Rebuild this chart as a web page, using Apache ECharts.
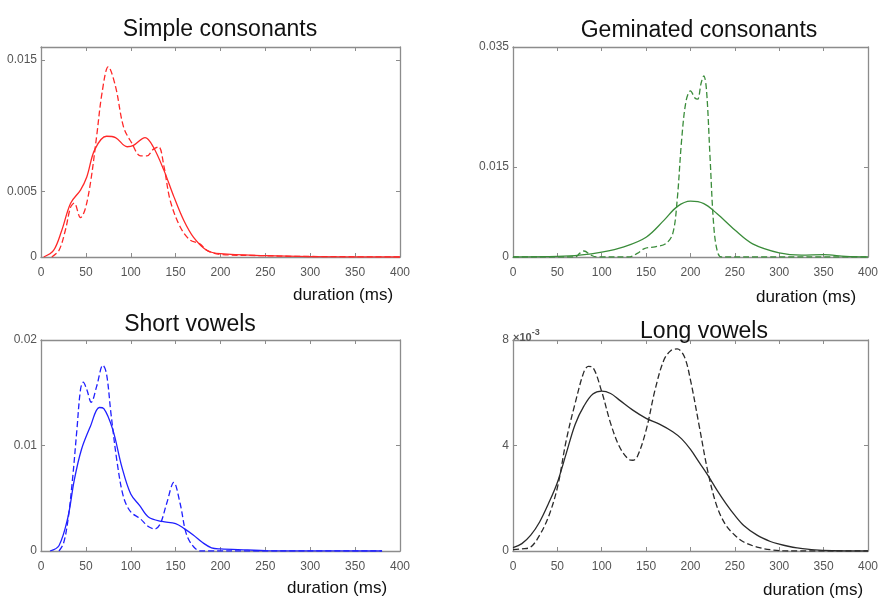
<!DOCTYPE html>
<html><head><meta charset="utf-8">
<script src="https://cdn.jsdelivr.net/npm/echarts@6/dist/echarts.min.js"></script>
<style>html,body{margin:0;padding:0;background:#fff}#c{width:881px;height:599px}</style>
</head><body><div id="c"></div>
<script>
// ---- Data (durations in ms, densities) ----
const xTicks = [0, 50, 100, 150, 200, 250, 300, 350, 400];

// Simple consonants (red)
const simpleSolidX = [3, 14, 23, 33, 44, 51, 60, 73, 83, 96, 103, 116, 125, 137, 148, 159, 170, 185, 200, 250, 300, 400];
const simpleSolidY = [0, 0.0005, 0.002, 0.0041, 0.0051, 0.0061, 0.0082, 0.0092, 0.0091, 0.0084, 0.0085, 0.0091, 0.0084, 0.0066, 0.0046, 0.0028, 0.0015, 0.0005, 0.00025, 0.0001, 0.00003, 0];
const simpleDashX = [12, 20, 27, 33, 37, 44, 49, 55, 62, 68, 75, 83, 92, 101, 111, 118, 125, 131, 137, 144, 155, 166, 177, 185, 200, 250, 280, 400];
const simpleDashY = [0, 0.0005, 0.002, 0.0038, 0.0041, 0.003, 0.0036, 0.0056, 0.0092, 0.0125, 0.0145, 0.013, 0.0099, 0.0087, 0.0077, 0.0077, 0.0082, 0.0084, 0.0069, 0.0043, 0.0023, 0.0013, 0.001, 0.0005, 0.0002, 0.0001, 0.00005, 0];

// Geminated consonants (green)
const gemSolidX = [0, 50, 75, 100, 125, 150, 170, 185, 200, 215, 230, 250, 270, 300, 325, 350, 375, 400];
const gemSolidY = [0, 0.0001, 0.0003, 0.0008, 0.0017, 0.0033, 0.0061, 0.0084, 0.0093, 0.0089, 0.0072, 0.0045, 0.0022, 0.0007, 0.0003, 0.0004, 0.0001, 0];
const gemDashX = [0, 70, 75, 80, 88, 95, 130, 140, 148, 160, 172, 180, 185, 190, 195, 200, 205, 208, 212, 215, 218, 222, 226, 230, 235, 400];
const gemDashY = [0, 0, 0.0006, 0.001, 0.0003, 0, 0, 0.0006, 0.0014, 0.0017, 0.0022, 0.0039, 0.0095, 0.0195, 0.026, 0.0277, 0.0265, 0.0263, 0.029, 0.0302, 0.0279, 0.0167, 0.0056, 0.0011, 0, 0];

// Short vowels (blue)
const shortSolidX = [10, 20, 30, 37, 45, 55, 65, 70, 80, 90, 100, 110, 120, 135, 150, 160, 170, 180, 190, 200, 230, 250, 300, 380];
const shortSolidY = [0, 0.0005, 0.0032, 0.0067, 0.0096, 0.0118, 0.0136, 0.0135, 0.0115, 0.008, 0.0054, 0.0043, 0.0032, 0.0028, 0.0026, 0.0021, 0.0015, 0.0008, 0.0003, 0.0002, 0.0001, 0.00003, 0.00001, 0];
const shortDashX = [20, 25, 30, 35, 40, 44, 47, 51, 56, 62, 69, 73, 78, 85, 92, 100, 110, 120, 127, 133, 140, 148, 155, 162, 170, 178, 380];
const shortDashY = [0, 0.0007, 0.0029, 0.0067, 0.0115, 0.0153, 0.016, 0.0153, 0.0141, 0.0156, 0.0176, 0.0168, 0.013, 0.0083, 0.0051, 0.0037, 0.0031, 0.0023, 0.0021, 0.0026, 0.0045, 0.0065, 0.0045, 0.0016, 0.0004, 0, 0];

// Long vowels (black), values in units of 10^-3
const longSolidX = [0, 10, 20, 30, 40, 50, 60, 70, 80, 90, 100, 110, 120, 135, 150, 165, 180, 190, 200, 210, 220, 230, 240, 250, 260, 275, 290, 300, 310, 320, 340, 360, 400];
const longSolidY = [0.13, 0.28, 0.6, 1.1, 1.8, 2.6, 3.7, 4.8, 5.5, 5.95, 6.06, 5.97, 5.72, 5.34, 5.03, 4.81, 4.52, 4.25, 3.85, 3.35, 2.85, 2.3, 1.8, 1.35, 0.97, 0.6, 0.36, 0.26, 0.18, 0.12, 0.04, 0.01, 0];
const longDashX = [0, 10, 20, 30, 40, 50, 60, 70, 80, 85, 90, 100, 110, 120, 130, 135, 140, 150, 160, 170, 178, 185, 193, 200, 210, 220, 230, 240, 250, 260, 275, 290, 310, 400];
const longDashY = [0.05, 0.08, 0.15, 0.6, 1.3, 2.4, 4.2, 5.6, 6.8, 7.0, 6.96, 6.04, 4.84, 3.95, 3.48, 3.44, 3.57, 4.58, 6.1, 7.24, 7.6, 7.66, 7.37, 6.48, 4.71, 2.94, 1.67, 0.97, 0.6, 0.34, 0.15, 0.05, 0, 0];

// y tick values per panel
const yTicks1 = [0, 0.005, 0.015];
const yTicks2 = [0, 0.015, 0.035];
const yTicks3 = [0, 0.01, 0.02];
const yTicks4 = [0, 4, 8];

const titles = ['Simple consonants', 'Geminated consonants', 'Short vowels', 'Long vowels'];
const xName = 'duration (ms)';

// ---- Build ----
const pair = (xs, ys) => xs.map((x, i) => [x, ys[i]]);
const FONT = 'Liberation Sans, Arial, sans-serif';
const AX = '#8c8c8c';
const LAB = '#555';

const grids = [
  {left: 41, top: 47, width: 359, height: 210},
  {left: 513, top: 47, width: 360, height: 210},
  {left: 41, top: 340, width: 359, height: 211},
  {left: 513, top: 340, width: 360, height: 211}
];
const yMax = [0.016, 0.035, 0.02, 8];
const yTickSets = [yTicks1, yTicks2, yTicks3, yTicks4];

const xAxes = [], yAxes = [];
grids.forEach((g, i) => {
  const base = {
    type: 'value', gridIndex: i, min: 0, max: 400, interval: 50,
    axisLine: {show: true, onZero: false, lineStyle: {color: AX, width: 1.3}},
    axisTick: {show: true, inside: true, length: 4, lineStyle: {color: AX}, customValues: xTicks},
    splitLine: {show: false}
  };
  xAxes.push(Object.assign({}, base, {position: 'bottom',
    axisLabel: {show: true, color: LAB, fontSize: 12, fontFamily: FONT, margin: 10,
      customValues: xTicks}}));
  xAxes.push(Object.assign({}, base, {position: 'top', axisLabel: {show: false}}));
  const ybase = {
    type: 'value', gridIndex: i, min: 0, max: yMax[i],
    axisLine: {show: true, onZero: false, lineStyle: {color: AX, width: 1.3}},
    axisTick: {show: true, inside: true, length: 4, lineStyle: {color: AX}, customValues: yTickSets[i]},
    splitLine: {show: false}
  };
  yAxes.push(Object.assign({}, ybase, {position: 'left',
    axisLabel: {show: true, color: LAB, fontSize: 12, fontFamily: FONT, margin: 4,
      customValues: yTickSets[i], formatter: v => String(v)}}));
  yAxes.push(Object.assign({}, ybase, {position: 'right', axisLabel: {show: false}}));
});

const mk = (i, data, color, dashed) => ({
  type: 'line', xAxisIndex: i * 2, yAxisIndex: i * 2, data: data,
  showSymbol: false, smooth: 0.35, silent: true,
  lineStyle: {color: color, width: 1.3, type: dashed ? [6, 3] : 'solid'}
});

const red = '#ff2828', green = '#3a8c3a', blue = '#2020ff', black = '#2a2a2a';
const series = [
  mk(0, pair(simpleSolidX, simpleSolidY), red, false),
  mk(0, pair(simpleDashX, simpleDashY), red, true),
  mk(1, pair(gemSolidX, gemSolidY), green, false),
  mk(1, pair(gemDashX, gemDashY), green, true),
  mk(2, pair(shortSolidX, shortSolidY), blue, false),
  mk(2, pair(shortDashX, shortDashY), blue, true),
  mk(3, pair(longSolidX, longSolidY), black, false),
  mk(3, pair(longDashX, longDashY), black, true)
];

const tStyle = {fontSize: 23, fontWeight: 'normal', color: '#111', fontFamily: FONT};
const nStyle = {fontSize: 17, fontWeight: 'normal', color: '#111', fontFamily: FONT};
const title = [
  {text: titles[0], left: 220, top: 18, padding: 0, textAlign: 'center', textStyle: tStyle},
  {text: titles[1], left: 699, top: 19, padding: 0, textAlign: 'center', textStyle: tStyle},
  {text: titles[2], left: 190, top: 313, padding: 0, textAlign: 'center', textStyle: tStyle},
  {text: titles[3], left: 704, top: 320, padding: 0, textAlign: 'center', textStyle: tStyle},
  {text: xName, left: 343, top: 287, padding: 0, textAlign: 'center', textStyle: nStyle},
  {text: xName, left: 806, top: 289, padding: 0, textAlign: 'center', textStyle: nStyle},
  {text: xName, left: 337, top: 580, padding: 0, textAlign: 'center', textStyle: nStyle},
  {text: xName, left: 813, top: 582, padding: 0, textAlign: 'center', textStyle: nStyle},
  {text: '{a|×10}{b|-3}', left: 513, top: 328, padding: 0,
   textStyle: {rich: {a: {fontSize: 11, color: LAB, fontFamily: FONT, verticalAlign: 'bottom'},
                      b: {fontSize: 9, color: LAB, fontFamily: FONT, verticalAlign: 'top', padding: [0, 0, 6, 0]}}}}
];

const chart = echarts.init(document.getElementById('c'), null, {renderer: 'canvas'});
chart.setOption({
  animation: false, backgroundColor: '#fff',
  title: title, grid: grids, xAxis: xAxes, yAxis: yAxes, series: series
});
</script></body></html>
